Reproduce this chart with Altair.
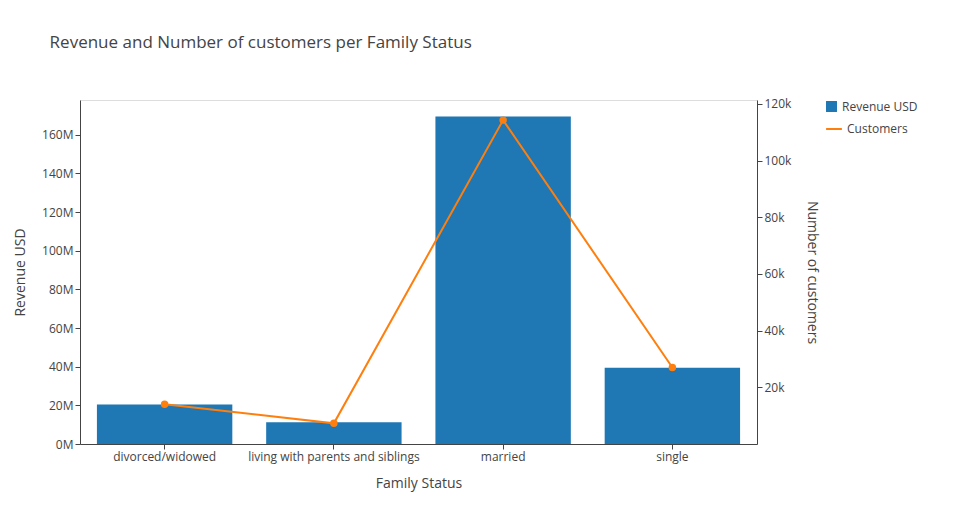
import altair as alt
import pandas as pd

status = ["divorced/widowed", "living with parents and siblings", "married", "single"]
revenue = [20.5e6, 11.2e6, 169.4e6, 39.4e6]
customers = [14000, 7300, 114300, 27000]

df = pd.DataFrame({"status": status, "revenue": revenue, "customers": customers,
                   "rlab": "Revenue USD", "clab": "Customers"})

font = "Open Sans"
grey = "#444"

x_enc = alt.X("status:N", sort=status, title="Family Status",
              scale=alt.Scale(paddingInner=0.2, paddingOuter=0.1),
              axis=alt.Axis(labelAngle=0, domainColor=grey, tickColor=grey, tickSize=5,
                            labelColor=grey, titleColor=grey, titleFontWeight="normal",
                            labelFontSize=12, titleFontSize=14, titlePadding=14))

bars = alt.Chart(df).mark_bar(color="#1f77b4").encode(
    x=x_enc,
    y=alt.Y("revenue:Q", title="Revenue USD",
            scale=alt.Scale(domain=[0, 178e6], nice=False),
            axis=alt.Axis(values=[0, 20e6, 40e6, 60e6, 80e6, 100e6, 120e6, 140e6, 160e6],
                          format="~s", grid=False, domainColor=grey, tickColor=grey,
                          labelColor=grey, titleColor=grey, titleFontWeight="normal",
                          labelFontSize=12, titleFontSize=14, titlePadding=14)),
    fill=alt.Fill("rlab:N", title=None,
                  scale=alt.Scale(domain=["Revenue USD"], range=["#1f77b4"]),
                  legend=alt.Legend(orient="none", legendX=745, legendY=0, symbolType="square",
                                    symbolSize=120, labelFontSize=12, labelColor=grey, labelFont=font)),
)

line = alt.Chart(df).mark_line(color="#ff7f0e", strokeWidth=2, point=alt.OverlayMarkDef(color="#ff7f0e", size=30)).encode(
    x=alt.X("status:N", sort=status),
    y=alt.Y("customers:Q", title="Number of customers",
            scale=alt.Scale(domain=[0, 121400], nice=False),
            axis=alt.Axis(values=[20000, 40000, 60000, 80000, 100000, 120000], format="~s",
                          grid=False, orient="right", domainColor=grey, tickColor=grey,
                          labelColor=grey, titleColor=grey, titleFontWeight="normal",
                          labelFontSize=12, titleFontSize=14, titlePadding=14)),
    stroke=alt.Stroke("clab:N", title=None,
                      scale=alt.Scale(domain=["Customers"], range=["#ff7f0e"]),
                      legend=alt.Legend(orient="none", legendX=745, legendY=20, symbolType="stroke",
                                        symbolStrokeWidth=2, symbolSize=250,
                                        labelFontSize=12, labelColor=grey, labelFont=font)),
)

chart = alt.layer(bars, line).resolve_scale(y="independent", fill="independent", stroke="independent").properties(
    width=677, height=344,
    autosize=alt.AutoSizeParams(type="none"),
    padding={"left": 72, "top": 92, "right": 190, "bottom": 73},
    title=alt.Title("Revenue and Number of customers per Family Status", anchor="start",
                    dx=36, offset=46, fontSize=17, fontWeight="normal", color=grey, font=font),
).configure_view(stroke=None).configure(font=font)

chart.save("out.html", embed_options={"renderer": "svg", "actions": False})
